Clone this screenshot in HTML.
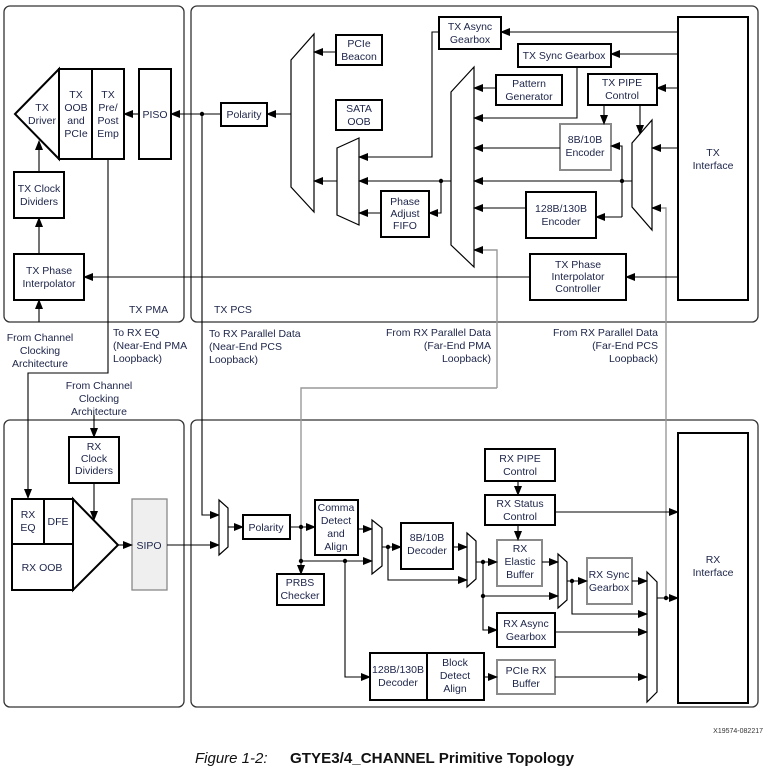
<!DOCTYPE html>
<html><head><meta charset="utf-8"><style>
html,body{margin:0;padding:0;background:#fff;}
svg{display:block;}
text{font-family:"Liberation Sans",Arial,sans-serif;font-size:10.5px;fill:#1c2448;}
.b{fill:#fff;stroke:#000;stroke-width:2;}
.g{fill:#fff;stroke:#8a8a8a;stroke-width:2;}
.p{fill:none;stroke:#333;stroke-width:1.3;}
.l{fill:none;stroke:#000;stroke-width:1.1;}
.gl{fill:none;stroke:#999;stroke-width:1.4;}
.m{fill:#fff;stroke:#000;stroke-width:1.2;}
</style></head><body>
<svg width="766" height="775" viewBox="0 0 766 775" xmlns="http://www.w3.org/2000/svg">
<defs>
<marker id="a" markerUnits="userSpaceOnUse" markerWidth="10" markerHeight="8" refX="9" refY="4" orient="auto"><path d="M0,0 L10,4 L0,8 z" fill="#000"/></marker>
</defs>
<rect class="p" x="4" y="6" width="180" height="316" rx="6"/>
<rect class="p" x="191" y="6" width="567" height="316" rx="6"/>
<rect class="p" x="4" y="420" width="180" height="287" rx="6"/>
<rect class="p" x="191" y="420" width="567" height="287" rx="6"/>

<polyline class="gl" points="497,388 497,250 474,250" marker-end="url(#a)"/>
<polyline class="gl" points="497,388 301,388 301,527"/>
<polyline class="gl" points="666,598 666,208 652,208" marker-end="url(#a)"/>

<polygon class="b" points="15,114 59,69 59,159"/>
<rect class="b" x="59" y="69" width="33" height="90"/>
<rect class="b" x="92" y="69" width="32" height="90"/>
<rect class="b" x="139" y="69" width="32" height="90"/>
<rect class="b" x="14" y="172" width="50" height="46"/>
<rect class="b" x="14" y="254" width="70" height="46"/>
<text x="42" y="111" text-anchor="middle"><tspan x="42">TX</tspan><tspan x="42" dy="13">Driver</tspan></text>
<text x="76" y="98" text-anchor="middle"><tspan x="76">TX</tspan><tspan x="76" dy="13">OOB</tspan><tspan x="76" dy="13">and</tspan><tspan x="76" dy="13">PCIe</tspan></text>
<text x="108" y="98" text-anchor="middle"><tspan x="108">TX</tspan><tspan x="108" dy="13">Pre/</tspan><tspan x="108" dy="13">Post</tspan><tspan x="108" dy="13">Emp</tspan></text>
<text x="155" y="118" text-anchor="middle">PISO</text>
<text x="39" y="192" text-anchor="middle"><tspan x="39">TX Clock</tspan><tspan x="39" dy="13">Dividers</tspan></text>
<text x="49" y="274" text-anchor="middle"><tspan x="49">TX Phase</tspan><tspan x="49" dy="13">Interpolator</tspan></text>
<text x="129" y="313">TX PMA</text>
<line class="l" x1="221" y1="114" x2="171" y2="114" marker-end="url(#a)"/>
<line class="l" x1="139" y1="114" x2="124" y2="114" marker-end="url(#a)"/>
<line class="l" x1="39" y1="172" x2="39" y2="141" marker-end="url(#a)"/>
<line class="l" x1="39" y1="254" x2="39" y2="218" marker-end="url(#a)"/>
<line class="l" x1="39" y1="322" x2="39" y2="300" marker-end="url(#a)"/>
<line class="l" x1="531" y1="277" x2="84" y2="277" marker-end="url(#a)"/>
<polyline class="l" points="108,159 108,373 28,373 28,498" marker-end="url(#a)"/>

<text x="40" y="341" text-anchor="middle"><tspan x="40">From Channel</tspan><tspan x="40" dy="13">Clocking</tspan><tspan x="40" dy="13">Architecture</tspan></text>
<text x="113" y="336"><tspan x="113">To RX EQ</tspan><tspan x="113" dy="13">(Near-End PMA</tspan><tspan x="113" dy="13">Loopback)</tspan></text>
<text x="99" y="389" text-anchor="middle"><tspan x="99">From Channel</tspan><tspan x="99" dy="13">Clocking</tspan><tspan x="99" dy="13">Architecture</tspan></text>
<text x="209" y="337"><tspan x="209">To RX Parallel Data</tspan><tspan x="209" dy="13">(Near-End PCS</tspan><tspan x="209" dy="13">Loopback)</tspan></text>
<text x="491" y="336" text-anchor="end"><tspan x="491">From RX Parallel Data</tspan><tspan x="491" dy="13">(Far-End PMA</tspan><tspan x="491" dy="13">Loopback)</tspan></text>
<text x="658" y="336" text-anchor="end"><tspan x="658">From RX Parallel Data</tspan><tspan x="658" dy="13">(Far-End PCS</tspan><tspan x="658" dy="13">Loopback)</tspan></text>

<text x="214" y="313">TX PCS</text>
<rect class="b" x="221" y="103" width="46" height="23"/>
<text x="244" y="118" text-anchor="middle">Polarity</text>
<circle cx="202" cy="114" r="2.2"/>
<polyline class="l" points="202,114 202,515 219,515" marker-end="url(#a)"/>
<polygon class="m" points="291,60 314,34 314,212 291,187"/>
<polygon class="m" points="337,148 359,138 359,225 337,215"/>
<polygon class="m" points="451,92 474,67 474,267 451,245"/>
<polygon class="m" points="632,143 652,120 652,230 632,207"/>
<rect class="b" x="336" y="35" width="46" height="30"/>
<text x="359" y="47" text-anchor="middle"><tspan x="359">PCIe</tspan><tspan x="359" dy="13">Beacon</tspan></text>
<rect class="b" x="336" y="100" width="46" height="30"/>
<text x="359" y="112" text-anchor="middle"><tspan x="359">SATA</tspan><tspan x="359" dy="13">OOB</tspan></text>
<rect class="b" x="381" y="191" width="48" height="46"/>
<text x="405" y="205" text-anchor="middle"><tspan x="405">Phase</tspan><tspan x="405" dy="12">Adjust</tspan><tspan x="405" dy="12">FIFO</tspan></text>
<rect class="b" x="439" y="17" width="62" height="32"/>
<text x="470" y="30" text-anchor="middle"><tspan x="470">TX Async</tspan><tspan x="470" dy="13">Gearbox</tspan></text>
<rect class="b" x="518" y="44" width="93" height="23"/>
<text x="564" y="59" text-anchor="middle">TX Sync Gearbox</text>
<rect class="b" x="496" y="75" width="66" height="30"/>
<text x="529" y="87" text-anchor="middle"><tspan x="529">Pattern</tspan><tspan x="529" dy="13">Generator</tspan></text>
<rect class="b" x="588" y="74" width="69" height="31"/>
<text x="622" y="86" text-anchor="middle"><tspan x="622">TX PIPE</tspan><tspan x="622" dy="13">Control</tspan></text>
<rect class="g" x="560" y="124" width="51" height="46"/>
<text x="585" y="143" text-anchor="middle"><tspan x="585">8B/10B</tspan><tspan x="585" dy="13">Encoder</tspan></text>
<rect class="b" x="526" y="192" width="70" height="46"/>
<text x="561" y="212" text-anchor="middle"><tspan x="561">128B/130B</tspan><tspan x="561" dy="13">Encoder</tspan></text>
<rect class="b" x="530" y="254" width="96" height="46"/>
<text x="578" y="268" text-anchor="middle"><tspan x="578">TX Phase</tspan><tspan x="578" dy="12">Interpolator</tspan><tspan x="578" dy="12">Controller</tspan></text>
<rect class="b" x="678" y="17" width="70" height="283"/>
<text x="713" y="156" text-anchor="middle"><tspan x="713">TX</tspan><tspan x="713" dy="13">Interface</tspan></text>

<line class="l" x1="291" y1="114" x2="267" y2="114" marker-end="url(#a)"/>
<line class="l" x1="336" y1="52" x2="314" y2="52" marker-end="url(#a)"/>
<line class="l" x1="337" y1="181" x2="314" y2="181" marker-end="url(#a)"/>
<line class="l" x1="678" y1="32" x2="501" y2="32" marker-end="url(#a)"/>
<polyline class="l" points="439,32 432,32 432,157 359,157" marker-end="url(#a)"/>
<line class="l" x1="451" y1="181" x2="359" y2="181" marker-end="url(#a)"/>
<circle cx="441" cy="181" r="2.2"/>
<polyline class="l" points="441,181 441,213 429,213" marker-end="url(#a)"/>
<line class="l" x1="381" y1="213" x2="359" y2="213" marker-end="url(#a)"/>
<line class="l" x1="496" y1="88" x2="474" y2="88" marker-end="url(#a)"/>
<line class="l" x1="678" y1="54" x2="611" y2="54" marker-end="url(#a)"/>
<polyline class="l" points="577,67 577,118 474,118" marker-end="url(#a)"/>
<line class="l" x1="560" y1="148" x2="474" y2="148" marker-end="url(#a)"/>
<line class="l" x1="632" y1="181" x2="474" y2="181" marker-end="url(#a)"/>
<circle cx="622" cy="181" r="2.2"/>
<polyline class="l" points="622,217 622,146 611,146" marker-end="url(#a)"/>
<line class="l" x1="622" y1="217" x2="596" y2="217" marker-end="url(#a)"/>
<line class="l" x1="526" y1="208" x2="474" y2="208" marker-end="url(#a)"/>
<line class="l" x1="678" y1="88" x2="657" y2="88" marker-end="url(#a)"/>
<line class="l" x1="604" y1="105" x2="604" y2="124" marker-end="url(#a)"/>
<line class="l" x1="640" y1="105" x2="640" y2="134" marker-end="url(#a)"/>
<line class="l" x1="678" y1="148" x2="652" y2="148" marker-end="url(#a)"/>
<line class="l" x1="678" y1="277" x2="626" y2="277" marker-end="url(#a)"/>

<rect class="b" x="69" y="437" width="50" height="46"/>
<text x="94" y="450" text-anchor="middle"><tspan x="94">RX</tspan><tspan x="94" dy="12">Clock</tspan><tspan x="94" dy="12">Dividers</tspan></text>
<polygon class="b" points="73,499 118,545 73,590"/>
<rect class="b" x="12" y="499" width="32" height="45"/>
<rect class="b" x="44" y="499" width="29" height="45"/>
<rect class="b" x="12" y="544" width="61" height="46"/>
<text x="28" y="518" text-anchor="middle"><tspan x="28">RX</tspan><tspan x="28" dy="13">EQ</tspan></text>
<text x="58" y="525" text-anchor="middle">DFE</text>
<text x="42" y="571" text-anchor="middle">RX OOB</text>
<rect x="132" y="499" width="35" height="91" fill="#efefef" stroke="#888" stroke-width="1.3"/>
<text x="149" y="549" text-anchor="middle">SIPO</text>
<line class="l" x1="94" y1="415" x2="94" y2="437" marker-end="url(#a)"/>
<line class="l" x1="94" y1="483" x2="94" y2="520" marker-end="url(#a)"/>
<line class="l" x1="118" y1="545" x2="132" y2="545" marker-end="url(#a)"/>
<line class="l" x1="167" y1="545" x2="219" y2="545" marker-end="url(#a)"/>

<polygon class="m" points="219,500 228,508 228,547 219,555"/>
<polygon class="m" points="372,520 382,528 382,566 372,574"/>
<polygon class="m" points="467,533 476,541 476,579 467,587"/>
<polygon class="m" points="558,554 567,562 567,600 558,608"/>
<polygon class="m" points="647,572 657,582 657,692 647,702"/>
<rect class="b" x="243" y="515" width="47" height="24"/>
<text x="266" y="531" text-anchor="middle">Polarity</text>
<rect class="b" x="315" y="500" width="43" height="55"/>
<text x="336" y="511" text-anchor="middle"><tspan x="336">Comma</tspan><tspan x="336" dy="13">Detect</tspan><tspan x="336" dy="13">and</tspan><tspan x="336" dy="13">Align</tspan></text>
<rect class="b" x="277" y="574" width="47" height="31"/>
<text x="300" y="586" text-anchor="middle"><tspan x="300">PRBS</tspan><tspan x="300" dy="13">Checker</tspan></text>
<rect class="b" x="401" y="523" width="52" height="46"/>
<text x="427" y="541" text-anchor="middle"><tspan x="427">8B/10B</tspan><tspan x="427" dy="13">Decoder</tspan></text>
<rect class="b" x="485" y="449" width="70" height="32"/>
<text x="520" y="462" text-anchor="middle"><tspan x="520">RX PIPE</tspan><tspan x="520" dy="13">Control</tspan></text>
<rect class="b" x="485" y="495" width="70" height="30"/>
<text x="520" y="507" text-anchor="middle"><tspan x="520">RX Status</tspan><tspan x="520" dy="13">Control</tspan></text>
<rect class="g" x="497" y="540" width="45" height="46"/>
<text x="520" y="552" text-anchor="middle"><tspan x="520">RX</tspan><tspan x="520" dy="13">Elastic</tspan><tspan x="520" dy="13">Buffer</tspan></text>
<rect class="g" x="587" y="558" width="45" height="46"/>
<text x="609" y="578" text-anchor="middle"><tspan x="609">RX Sync</tspan><tspan x="609" dy="13">Gearbox</tspan></text>
<rect class="b" x="497" y="613" width="58" height="34"/>
<text x="526" y="627" text-anchor="middle"><tspan x="526">RX Async</tspan><tspan x="526" dy="13">Gearbox</tspan></text>
<rect class="b" x="370" y="653" width="57" height="47"/>
<rect class="b" x="427" y="653" width="57" height="47"/>
<text x="398" y="673" text-anchor="middle"><tspan x="398">128B/130B</tspan><tspan x="398" dy="13">Decoder</tspan></text>
<text x="455" y="666" text-anchor="middle"><tspan x="455">Block</tspan><tspan x="455" dy="13">Detect</tspan><tspan x="455" dy="13">Align</tspan></text>
<rect class="g" x="497" y="660" width="58" height="34"/>
<text x="526" y="674" text-anchor="middle"><tspan x="526">PCIe RX</tspan><tspan x="526" dy="13">Buffer</tspan></text>
<rect class="b" x="678" y="433" width="70" height="270"/>
<text x="713" y="563" text-anchor="middle"><tspan x="713">RX</tspan><tspan x="713" dy="13">Interface</tspan></text>

<line class="l" x1="228" y1="527" x2="243" y2="527" marker-end="url(#a)"/>
<line class="l" x1="290" y1="527" x2="315" y2="527" marker-end="url(#a)"/>
<circle cx="301" cy="527" r="2.2"/>
<line class="l" x1="301" y1="527" x2="301" y2="574" marker-end="url(#a)"/>
<circle cx="301" cy="561" r="2.2"/>
<line class="l" x1="301" y1="561" x2="372" y2="561" marker-end="url(#a)"/>
<circle cx="345" cy="561" r="2.2"/>
<polyline class="l" points="345,561 345,677 370,677" marker-end="url(#a)"/>
<line class="l" x1="358" y1="529" x2="372" y2="529" marker-end="url(#a)"/>
<line class="l" x1="382" y1="547" x2="401" y2="547" marker-end="url(#a)"/>
<circle cx="388" cy="547" r="2.2"/>
<polyline class="l" points="388,547 388,580 467,580" marker-end="url(#a)"/>
<line class="l" x1="453" y1="547" x2="467" y2="547" marker-end="url(#a)"/>
<line class="l" x1="476" y1="562" x2="497" y2="562" marker-end="url(#a)"/>
<circle cx="483" cy="562" r="2.2"/>
<polyline class="l" points="483,562 483,630 497,630" marker-end="url(#a)"/>
<circle cx="483" cy="596" r="2.2"/>
<line class="l" x1="483" y1="596" x2="558" y2="596" marker-end="url(#a)"/>
<line class="l" x1="518" y1="481" x2="518" y2="495" marker-end="url(#a)"/>
<line class="l" x1="518" y1="525" x2="518" y2="540" marker-end="url(#a)"/>
<line class="l" x1="555" y1="512" x2="678" y2="512" marker-end="url(#a)"/>
<line class="l" x1="542" y1="562" x2="558" y2="562" marker-end="url(#a)"/>
<line class="l" x1="567" y1="581" x2="587" y2="581" marker-end="url(#a)"/>
<circle cx="572" cy="581" r="2.2"/>
<polyline class="l" points="572,581 572,614 647,614" marker-end="url(#a)"/>
<line class="l" x1="632" y1="581" x2="647" y2="581" marker-end="url(#a)"/>
<line class="l" x1="555" y1="632" x2="647" y2="632" marker-end="url(#a)"/>
<line class="l" x1="484" y1="677" x2="497" y2="677" marker-end="url(#a)"/>
<line class="l" x1="555" y1="677" x2="647" y2="677" marker-end="url(#a)"/>
<line class="l" x1="657" y1="598" x2="678" y2="598" marker-end="url(#a)"/>
<circle cx="666" cy="598" r="2.2"/>

<text x="763" y="733" text-anchor="end" style="font-size:7px;fill:#333">X19574-082217</text>
<text x="195" y="763" style="font-size:15px;font-style:italic;fill:#111">Figure 1-2:</text>
<text x="290" y="763" style="font-size:15px;font-weight:bold;fill:#111" textLength="284" lengthAdjust="spacingAndGlyphs">GTYE3/4_CHANNEL Primitive Topology</text>
</svg>
</body></html>
